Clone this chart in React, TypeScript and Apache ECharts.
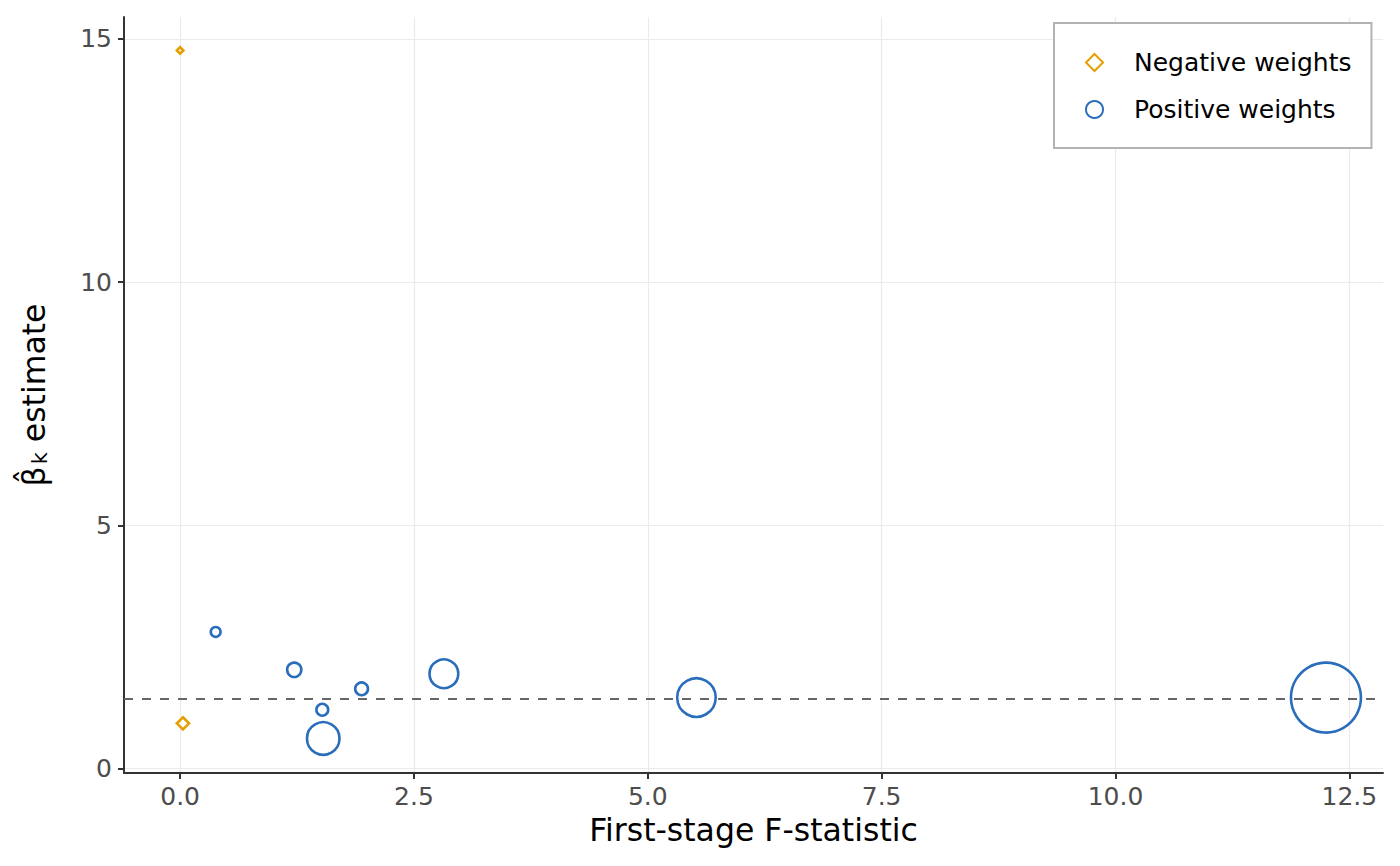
import React, { useEffect, useRef } from 'react';
import * as echarts from 'echarts';

// ---- data ----
const seriesNames = ['Negative weights', 'Positive weights'];
const negF = [0.0, 0.03];
const negBeta = [14.76, 0.93];
const negWeight = [0.0035, 0.0122];
const posF = [0.38, 1.22, 1.52, 1.53, 1.94, 2.82, 5.52, 12.25];
const posBeta = [2.81, 2.03, 1.21, 0.62, 1.64, 1.95, 1.46, 1.46];
const posWeight = [0.0078, 0.0165, 0.0114, 0.0862, 0.0134, 0.0677, 0.121, 0.4];
const refBeta = 1.43;
const xTicks = [0, 2.5, 5, 7.5, 10, 12.5];
const yTicks = [0, 5, 10, 15];
const xTitle = 'First-stage F-statistic';

const FONT = 'DejaVu Sans';
const ORANGE = '#E69F00';
const BLUE = '#2A6EBB';

const sizeOf = (v: number[]) => 70 * Math.sqrt(v[2] / 0.4);

export default function App() {
  const ref = useRef<HTMLDivElement>(null);
  useEffect(() => {
    if (!ref.current) return;
    const chart = echarts.init(ref.current, null, { renderer: 'svg' });
    const negData = negF.map((f, i) => [f, negBeta[i], negWeight[i]]);
    const posData = posF.map((f, i) => [f, posBeta[i], posWeight[i]]);
    chart.setOption({
      animation: false,
      backgroundColor: '#fff',
      grid: { left: 124, right: 17, top: 17, bottom: 93, containLabel: false },
      legend: {
        data: [
          { name: seriesNames[0], icon: 'diamond' },
          { name: seriesNames[1], icon: 'circle' },
        ],
        orient: 'vertical',
        left: 1054,
        top: 23,
        padding: [27, 20, 26, 31],
        itemWidth: 17,
        itemHeight: 17,
        itemGap: 22,
        borderColor: '#B3B3B3',
        borderWidth: 2,
        borderRadius: 0,
        backgroundColor: '#fff',
        selectedMode: false,
        textStyle: { fontFamily: FONT, fontSize: 25, color: '#000', lineHeight: 25, padding: [0, 0, 0, 26] },
      },
      xAxis: {
        type: 'value',
        min: -0.6,
        max: 12.86,
        name: xTitle,
        nameLocation: 'middle',
        nameGap: 39,
        nameTextStyle: { fontFamily: FONT, fontSize: 31.5, color: '#000' },
        axisLine: { show: true, onZero: false, lineStyle: { color: '#333', width: 2 } },
        axisTick: { show: true, length: 6, lineStyle: { color: '#333', width: 2 }, customValues: xTicks },
        axisLabel: {
          customValues: xTicks,
          fontFamily: FONT,
          fontSize: 25,
          color: '#4D4D4D',
          margin: 11,
          formatter: (v: number) => v.toFixed(1),
        },
        splitLine: { show: true, lineStyle: { color: '#EBEBEB', width: 1.2 } },
      },
      yAxis: {
        type: 'value',
        min: -0.09,
        max: 15.447,
        name: '{b|β̂}{k|k}{e| estimate}',
        nameLocation: 'middle',
        nameRotate: 90,
        nameGap: 74,
        nameTextStyle: {
          fontFamily: FONT,
          fontSize: 31.5,
          color: '#000',
          rich: {
            b: { fontFamily: FONT, fontSize: 31.5, color: '#000' },
            k: { fontFamily: FONT, fontSize: 21, color: '#000', verticalAlign: 'bottom', padding: [11, 0, 0, 2] },
            e: { fontFamily: FONT, fontSize: 31.5, color: '#000' },
          },
        },
        axisLine: { show: true, onZero: false, lineStyle: { color: '#333', width: 2 } },
        axisTick: { show: true, length: 6, lineStyle: { color: '#333', width: 2 }, customValues: yTicks },
        axisLabel: {
          customValues: yTicks,
          fontFamily: FONT,
          fontSize: 25,
          color: '#4D4D4D',
          margin: 12,
          formatter: (v: number) => String(Math.round(v)),
        },
        splitLine: { show: true, lineStyle: { color: '#EBEBEB', width: 1.2 } },
      },
      series: [
        {
          name: seriesNames[0],
          type: 'scatter',
          symbol: 'diamond',
          symbolSize: sizeOf,
          data: negData,
          itemStyle: { color: 'rgba(255,255,255,0)', borderColor: ORANGE, borderWidth: 2.6, opacity: 1 },
          emphasis: { disabled: true },
          z: 3,
        },
        {
          name: seriesNames[1],
          type: 'scatter',
          symbol: 'circle',
          symbolSize: sizeOf,
          data: posData,
          itemStyle: { color: 'rgba(255,255,255,0)', borderColor: BLUE, borderWidth: 2.6, opacity: 1 },
          emphasis: { disabled: true },
          z: 3,
          markLine: {
            silent: true,
            symbol: ['none', 'none'],
            label: { show: false },
            lineStyle: { color: '#666666', type: [9, 9], width: 2, opacity: 1 },
            data: [{ yAxis: refBeta }],
          },
        },
      ],
    });
    return () => chart.dispose();
  }, []);
  return <div ref={ref} style={{ position: 'absolute', left: 0, top: 0, width: 1400, height: 866 }} />;
}
